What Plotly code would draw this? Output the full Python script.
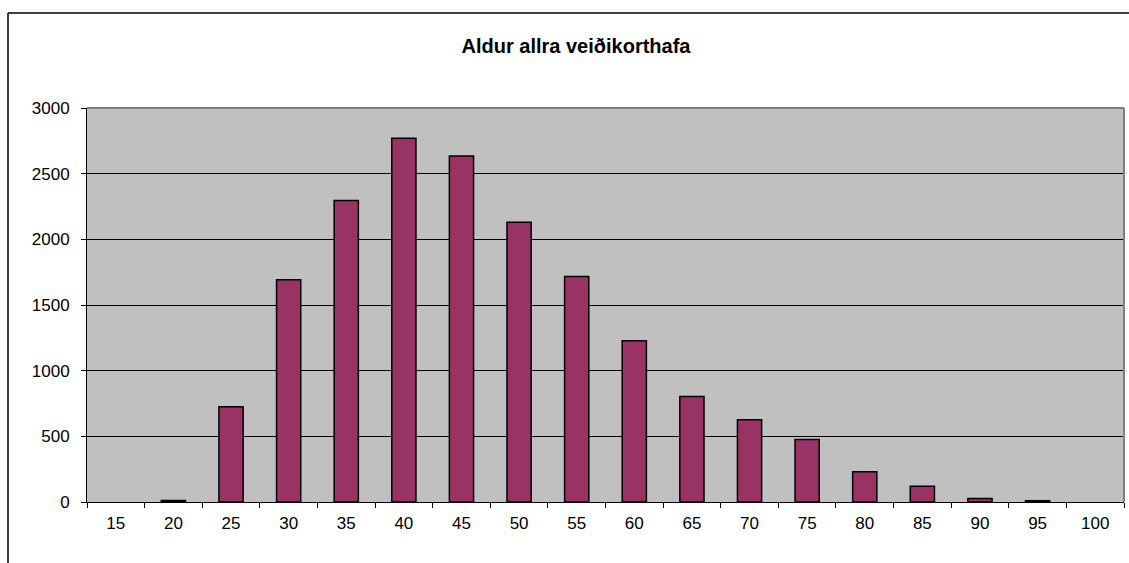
import plotly.graph_objects as go

# Age groups and number of license holders in each
age_groups = ["15", "20", "25", "30", "35", "40", "45", "50", "55",
              "60", "65", "70", "75", "80", "85", "90", "95", "100"]
holders = [0, 12, 725, 1692, 2295, 2770, 2635, 2131, 1717,
           1228, 804, 626, 476, 231, 119, 27, 10, 0]

title_text = "Aldur allra veiðikorthafa"
y_ticks = [0, 500, 1000, 1500, 2000, 2500, 3000]

W, H = 1129, 563
ML, MR, MT, MB = 87, 5, 108, 61
pw, ph = W - ML - MR, H - MT - MB

def px_x(x):
    return (x - ML) / pw

def px_y(y):
    return (H - MB - y) / ph

font = "Liberation Sans, Arial, sans-serif"

# empty groups get no outline
outline_widths = [1.5 if v > 0 else 0 for v in holders]

fig = go.Figure(go.Bar(
    x=age_groups,
    y=holders,
    marker=dict(color="#993366", line=dict(color="#000000", width=outline_widths)),
))

fig.update_layout(
    width=W, height=H,
    margin=dict(l=ML, r=MR, t=MT, b=MB),
    paper_bgcolor="#FFFFFF",
    plot_bgcolor="#C0C0C0",
    bargap=0.58,
    showlegend=False,
    font=dict(family=font, size=17, color="#000000"),
    title=dict(text="<b>" + title_text + "</b>", xref="container", yref="container",
               x=576 / W, y=1 - 46 / H, xanchor="center", yanchor="middle",
               font=dict(family=font, size=20, color="#000000")),
    xaxis=dict(type="category", tickson="boundaries", ticks="outside", ticklen=5,
               tickcolor="#000000", showline=True, linecolor="#000000", linewidth=1,
               showgrid=False, ticklabelstandoff=6),
    yaxis=dict(range=[0, 3000], tickvals=y_ticks, ticks="outside", ticklen=5,
               tickcolor="#000000", showline=True, linecolor="#000000", linewidth=1,
               showgrid=True, gridcolor="#000000", gridwidth=1, zeroline=False,
               ticklabelstandoff=8),
    shapes=[
        # plot area border (top and right edges)
        dict(type="line", xref="paper", yref="paper", x0=0, x1=1, y0=1, y1=1,
             line=dict(color="#808080", width=2)),
        dict(type="line", xref="paper", yref="paper", x0=1, x1=1, y0=0, y1=1,
             line=dict(color="#808080", width=2)),
        # chart area frame
        dict(type="line", xref="paper", yref="paper", x0=px_x(8), x1=px_x(W + 20),
             y0=px_y(13), y1=px_y(13), line=dict(color="#000000", width=1.5)),
        dict(type="line", xref="paper", yref="paper", x0=px_x(8), x1=px_x(8),
             y0=px_y(13), y1=px_y(H + 20), line=dict(color="#000000", width=1.5)),
    ],
)

fig.write_html("out.html")
